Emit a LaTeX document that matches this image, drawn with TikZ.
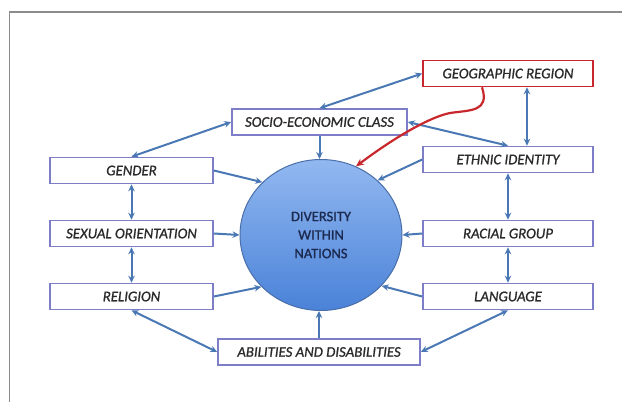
\documentclass[tikz,border=0pt]{standalone}
\usepackage{fontspec}
\setmainfont{Carlito}
\newfontfamily\lblfont{Carlito}[FakeBold=0.9]
\newfontfamily\circfont{Carlito}[FakeBold=1.1]
\usetikzlibrary{shapes.geometric,arrows.meta}
\definecolor{arrowblue}{HTML}{4A78B4}
\definecolor{boxedge}{HTML}{7E7EC8}
\definecolor{geored}{HTML}{C8282D}
\definecolor{labelgray}{HTML}{2A2A2A}
\definecolor{circtop}{HTML}{92B8F0}
\definecolor{circbot}{HTML}{4A82D8}
\definecolor{circedge}{HTML}{4A6EA8}
\definecolor{navytext}{HTML}{1C2A50}
\tikzset{
  lbox/.style={draw=boxedge, line width=1.6pt, fill=white, inner sep=0pt,
    minimum height=26pt, text=labelgray,
    font=\lblfont\fontsize{14.8}{17}\selectfont\itshape},
  conn/.style={draw=arrowblue, line width=2pt,
    -{Stealth[length=7pt,width=6.5pt]}},
  biconn/.style={draw=arrowblue, line width=2pt,
    {Stealth[length=7pt,width=6.5pt]}-{Stealth[length=7pt,width=6.5pt]}},
  frameline/.style={draw=gray!90, line width=1.6pt}
}
\begin{document}
\begin{tikzpicture}[x=1pt,y=-1pt]
\useasboundingbox (0,0) rectangle (622,402);
\draw[frameline] (9.5,402) -- (9.5,12) -- (622,12);

\node[ellipse, minimum width=162pt, minimum height=151pt, inner sep=0pt,
  top color=circtop, bottom color=circbot, draw=circedge, line width=1pt,
  text=navytext, align=center, font=\circfont\fontsize{14.5}{18.5}\selectfont]
  (c) at (321,235) {DIVERSITY\\WITHIN\\NATIONS};

\node[lbox, draw=geored, minimum width=170pt] (geo) at (508,73.5) {GEOGRAPHIC REGION};
\node[lbox, minimum width=175pt] (soc) at (319.5,122) {SOCIO-ECONOMIC CLASS};
\node[lbox, minimum width=170pt] (eth) at (508,159.5) {ETHNIC IDENTITY};
\node[lbox, minimum width=170pt] (rac) at (508,233.5) {RACIAL GROUP};
\node[lbox, minimum width=170pt] (lang) at (508,296.5) {LANGUAGE};
\node[lbox, minimum width=163pt] (gen) at (131.5,170.5) {GENDER};
\node[lbox, minimum width=163pt] (sex) at (131.5,233.5) {SEXUAL ORIENTATION};
\node[lbox, minimum width=163pt] (rel) at (131.5,296.5) {RELIGION};
\node[lbox, minimum width=202pt] (abl) at (319,352) {ABILITIES AND DISABILITIES};

% double arrows
\draw[biconn] (geo.west) -- (soc.north);
\draw[biconn] (soc.east) -- (eth.north);
\draw[biconn] ([xshift=19pt]geo.south) -- ([xshift=19pt]eth.north);
\draw[biconn] (gen.north) -- (soc.west);
\draw[biconn] (gen.south) -- (sex.north);
\draw[biconn] (sex.south) -- (rel.north);
\draw[biconn] (eth.south) -- (rac.north);
\draw[biconn] (rac.south) -- (lang.north);
\draw[biconn] (rel.south) -- (abl.west);
\draw[biconn] (lang.south) -- (abl.east);

% arrows into circle
\draw[conn] (soc.south) -- (soc.south |- c.north);
\draw[conn] (gen.east) -- (c.138);
\draw[conn] (sex.east) -- (c.west);
\draw[conn] (rel.east) -- (c.221);
\draw[conn] (eth.west) -- (c.44);
\draw[conn] (rac.west) -- (c.east);
\draw[conn] (lang.west) -- (c.-40);
\draw[conn] (abl.north) -- (abl.north |- c.south);

% red curved arrow
\coordinate (redstart) at ([xshift=-26pt]geo.south);
\draw[draw=geored, line width=2.2pt, -{Stealth[length=8pt,width=7pt]}]
  (redstart) .. controls (490,112) and (470,110) .. (450,113)
  .. controls (430,117) and (395,137) .. (c.63);
\end{tikzpicture}
\end{document}
